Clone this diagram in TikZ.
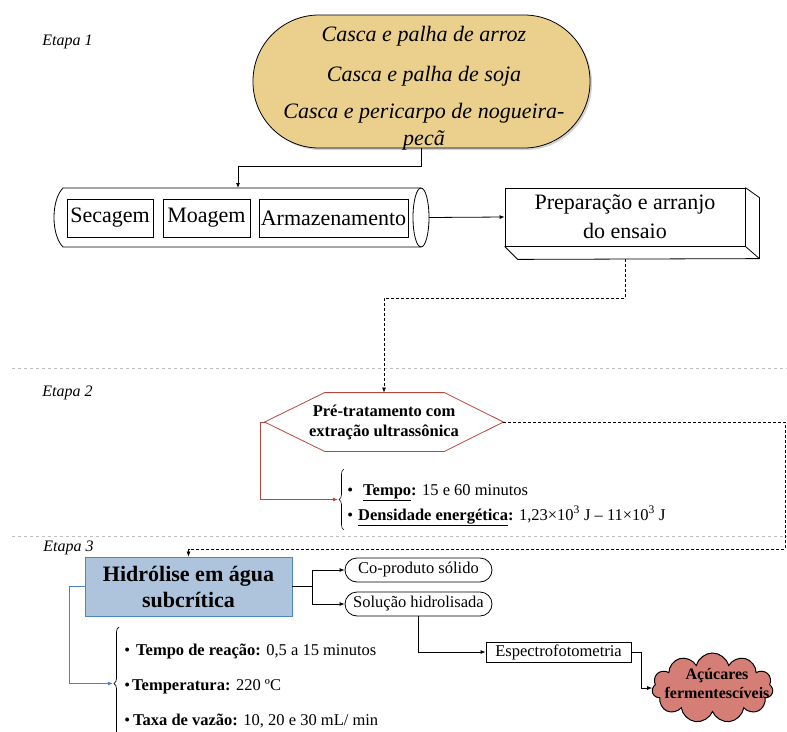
\documentclass[tikz,border=0pt]{standalone}
\usepackage{fontspec}
\setmainfont{Liberation Serif}
\usetikzlibrary{arrows.meta,positioning,calc,shadows,shapes.symbols,decorations.pathreplacing}

\definecolor{strawfill}{RGB}{234,208,140}
\definecolor{waterfill}{RGB}{173,196,220}
\definecolor{waterline}{RGB}{74,134,198}
\definecolor{sugarfill}{RGB}{212,126,118}
\definecolor{pretreatline}{RGB}{181,71,63}

\begin{document}
\begin{tikzpicture}[x=1pt, y=-1pt,
    line width=0.8pt,
    stagelabel/.style={anchor=west, inner sep=0pt, font=\fontsize{16}{19}\selectfont\itshape},
    sourcebox/.style={draw, fill=strawfill, rounded corners=66pt,
        minimum width=337pt, minimum height=133pt, inner sep=0pt,
        drop shadow={shadow xshift=2pt, shadow yshift=-2pt, opacity=0.35}},
    sourcetext/.style={align=center, inner sep=0pt, font=\fontsize{22}{27}\selectfont\itshape},
    unitbox/.style={draw, minimum height=38pt, inner sep=1.5pt, font=\fontsize{22}{26}\selectfont},
    prepbox/.style={draw, fill=white, align=center, minimum width=240pt, minimum height=58pt,
        inner sep=0pt, font=\fontsize{22}{29}\selectfont},
    hexnode/.style={minimum width=238pt, minimum height=58pt, inner sep=0pt, align=center,
        font=\fontsize{16.5}{20}\selectfont\bfseries},
    hexline/.style={draw=pretreatline, line width=0.8pt},
    waterbox/.style={draw=waterline, fill=waterfill, align=center, minimum width=207pt,
        minimum height=59pt, inner sep=0pt, font=\fontsize{22}{26}\selectfont\bfseries},
    productbox/.style={draw, rounded corners=12pt, minimum width=147pt, minimum height=24pt,
        inner sep=0pt, font=\fontsize{16.5}{19}\selectfont},
    assaybox/.style={draw, minimum width=145pt, minimum height=20pt, inner sep=0pt,
        font=\fontsize{16.5}{19}\selectfont},
    paramlist/.style={anchor=west, align=left, inner sep=0pt},
    bracedeco/.style={decorate, decoration={brace, amplitude=5pt}, line width=0.6pt},
    separator/.style={draw=gray!50, dashed, line width=0.6pt},
    flow/.style={-{Latex[length=5pt,width=4pt]}},
    dashflow/.style={-{Latex[length=5pt,width=4pt]}, dash pattern=on 3pt off 2pt, line width=0.7pt}
]
\useasboundingbox (0,0) rectangle (787,731);

\node[stagelabel] (stage1) at (42,42) {Etapa 1};
\node[stagelabel] (stage2) at (42,393) {Etapa 2};
\node[stagelabel] (stage3) at (43,548) {Etapa 3};

\draw[separator] (12,368) -- (787,368);
\draw[separator] (12,536) -- (787,536);

\node[sourcebox] (sources) at (421.5,81.5) {};
\node[sourcetext] (sourcestext) at (424,88) {Casca e palha de arroz\\[13pt]
    Casca e palha de soja\\[10pt]
    Casca e pericarpo de nogueira-\\pecã};

\draw (421,188) -- (63,188) .. controls (51,200) and (51,235) .. (63,247) -- (421,247);
\draw (421,217.5) ellipse [x radius=8, y radius=29.5];
\coordinate (cyltop) at (238,188);
\coordinate (cylend) at (429,217.5);

\node[unitbox, minimum width=86pt] (drying) at (110,218) {Secagem};
\node[unitbox, minimum width=87pt] (milling) at (206.5,218) {Moagem};
\node[unitbox, minimum width=149pt] (storage) at (333.5,218) {Armazenamento};

\node[prepbox] (prep) at (625,217) {Preparação e arranjo\\do ensaio};
\draw (prep.north east) -- ++(14,10) -- ++(0,61) coordinate (prepbackse)
    -- ($(prep.south west)+(13,13)$) -- (prep.south west);
\draw (prep.south east) -- (prepbackse);
\coordinate (prepbottom) at ($(prep.south)+(0,13)$);

\node[hexnode] (pretreat) at (384,422) {Pré-tratamento com\\extração ultrassônica};
\draw[hexline] (pretreat.west) -- ($(pretreat.north west)+(60,0)$)
    -- ($(pretreat.north east)+(-59,0)$) -- (pretreat.east)
    -- ($(pretreat.south east)+(-59,0)$) -- ($(pretreat.south west)+(60,0)$) -- cycle;

\draw[bracedeco] (344,530) -- (344,469);
\coordinate (brace1tip) at (338,499.5);
\node[paramlist, font=\fontsize{16.5}{25}\selectfont] (pretreatparams) at (347,505)
    {\textbullet\hspace{10pt}\underline{\textbf{Tempo}}\textbf{:} 15 e 60 minutos\\
     \textbullet\hspace{5pt}\underline{\textbf{Densidade energética}}\textbf{:} 1,23×10\textsuperscript{3} J -- 11×10\textsuperscript{3} J};

\node[waterbox] (hydro) at (188.5,586.5) {Hidrólise em água\\subcrítica};
\coordinate (fork) at (312,586.5);
\coordinate (rightturn) at (785,549);
\node[productbox] (coprod) at (418.5,570) {Co-produto sólido};
\node[productbox] (solution) at (418.5,604) {Solução hidrolisada};
\node[assaybox] (spectro) at (558.5,652) {Espectrofotometria};
\node[cloud, draw, fill=sugarfill, cloud puffs=11, cloud ignores aspect, line width=1pt,
    minimum width=121pt, minimum height=70pt, inner sep=0pt] (sugars) at (712.5,688) {};
\node[align=center, inner sep=0pt, font=\fontsize{16}{19}\selectfont\bfseries] (sugarstext)
    at (717,683.5) {Açúcares\\fermentescíveis};

\draw[bracedeco, line width=0.7pt] (119,740) -- (119,627);
\coordinate (brace2tip) at (113,683.5);
\node[paramlist, font=\fontsize{16.5}{35}\selectfont] (hydroparams) at (124,686)
    {\textbullet\hspace{6pt}\textbf{Tempo de reação:} 0,5 a 15 minutos\\
     \textbullet\hspace{2pt}\textbf{Temperatura:} 220 ºC\\
     \textbullet\hspace{3pt}\textbf{Taxa de vazão:} 10, 20 e 30 mL/ min};

\draw[flow] (sources.south) -- ++(0,18) -| (cyltop);
\draw[flow] (cylend) -- (prep.west);
\draw[dashflow] (prepbottom) -- ++(0,39) -| (pretreat.north);
\draw[flow, draw=pretreatline] (pretreat.west) -- ++(-4,0) |- (brace1tip);
\draw[dashflow] (pretreat.east) -| (rightturn) -| (hydro.north);
\draw (hydro.east) -- (fork);
\draw[flow] (fork) |- (coprod.west);
\draw[flow] (fork) |- (solution.west);
\draw[flow, draw=waterline] (hydro.west) -- ++(-15,0) |- (brace2tip);
\draw[flow] (solution.south) |- (spectro.west);
\draw[flow] (spectro.east) -- ++(10,0) |- (sugars.west);
\end{tikzpicture}
\end{document}
